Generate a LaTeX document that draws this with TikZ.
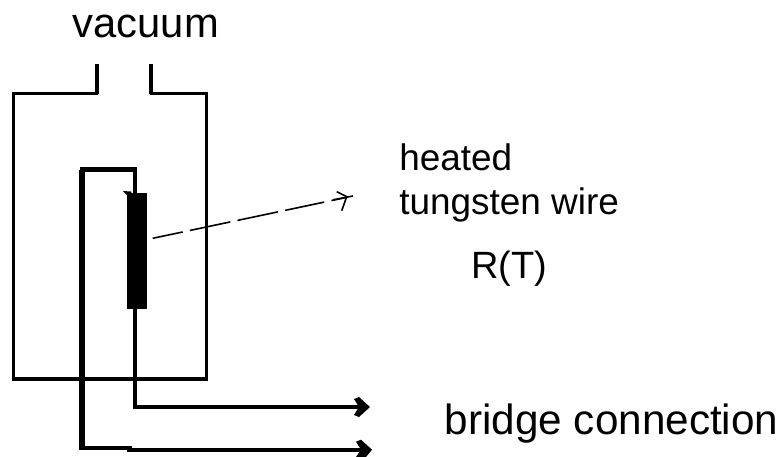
\documentclass[tikz,border=0pt]{standalone}
\usepackage{fontspec}
\setmainfont{Liberation Sans}
\tikzset{
  x=0.75pt,y=-0.75pt,
  wall/.style={draw=black,line width=2.5pt,line join=miter},
  rim/.style={draw=black,line width=2pt},
  lead/.style={draw=black,line width=2.5pt},
  leadthick/.style={draw=black,line width=4.4pt},
  barb/.style={fill=black,draw=none},
  pointer/.style={draw=black,line width=1.2pt,dash pattern=on 23pt off 5.5pt on 31pt off 5.5pt on 31pt off 5.5pt on 30pt off 5.5pt on 16pt},
  pointerhead/.style={draw=black,line width=1.2pt},
  big/.style={inner sep=0pt,anchor=base west,font=\fontsize{31.3pt}{36pt}\selectfont},
  mid/.style={inner sep=0pt,anchor=base west,font=\fontsize{27.7pt}{32pt}\selectfont},
  rtlabel/.style={inner sep=0pt,anchor=base west,font=\fontsize{28.5pt}{32pt}\selectfont,text=black},
}
\begin{document}
\begin{tikzpicture}
\useasboundingbox (0,0) rectangle (782,457);
\fill[white] (0,0) rectangle (782,457);
% jar
\draw[wall] (13.3,93) -- (13.3,379) -- (206.7,379) -- (206.7,93);
\draw[rim] (12,93.3) -- (98,93.3);
\draw[rim] (150,93.3) -- (208,93.3);
\draw[wall] (97,64) -- (97,94);
\draw[wall] (151,64) -- (151,94);
% filament
\node[fill=black,inner sep=0pt,minimum width=15pt,minimum height=87pt] (wire) at (137,251.3) {};
\coordinate (topleft) at (82,169.7);
\coordinate (topright) at (135,169.7);
\coordinate (botA) at (135,407);
\coordinate (endA) at (362,407);
\coordinate (botB) at (82,447.7);
\coordinate (endB) at (364,449.7);
\draw[line width=3.4pt] (80,169.7) -- (136.5,169.7);
\draw[lead] (135,194) -- (topright);
\draw[leadthick] (topleft) -- (82,449.5);
\draw[line width=3.2pt] (79,447.7) -- (132,447.7);
\draw[lead] (135,309) -- (botA) -- (endA);
\draw[line width=3pt] (127,449.7) -- (endB);
\fill[barb] (370,407) -- (359,397) -- (354,399) -- (359,407) -- (354,415) -- (359,417) -- cycle;
\fill[barb] (372,449.7) -- (361,439.7) -- (356,441.7) -- (361,449.7) -- (356,457) -- (366,457) -- cycle;
\fill (123,191) -- (131,191.5) -- (133,196) -- (128,196) -- cycle;
% pointer
\coordinate (ptA) at (152.7,238.3);
\coordinate (ptB) at (347,197.3);
\draw[pointer] (ptA) -- (ptB);
\draw[pointerhead] (336.7,191.7) -- (346.7,196.7) -- (341.7,210.7);
\draw[pointerhead] (333,199.8) -- (353,196);
% labels
\node[big] (vac) at (72.5,37) {vacuum};
\node[mid] (h1) at (399,170) {heated};
\node[mid] (h2) at (399,214) {tungsten wire};
\node[rtlabel] (rt) at (471,278) {R(T)};
\node[big,font=\fontsize{31.7pt}{36pt}\selectfont] (br) at (444.5,434) {bridge connection};
\end{tikzpicture}
\end{document}
